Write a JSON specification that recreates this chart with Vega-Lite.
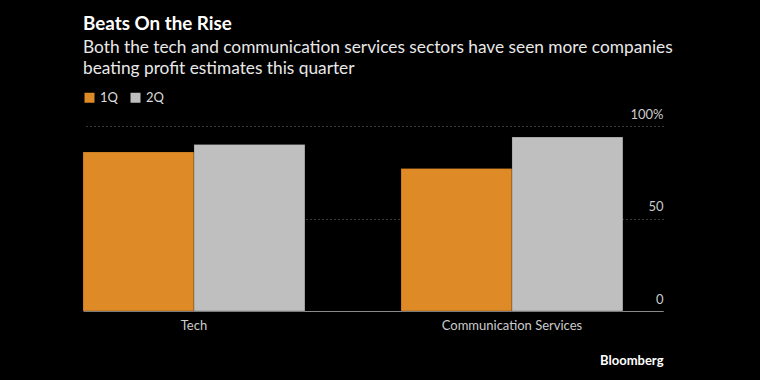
{
  "$schema": "https://vega.github.io/schema/vega-lite/v6.json",
  "width": 580,
  "height": 185,
  "autosize": {"type": "none"},
  "padding": {"left": 83, "top": 126, "right": 97, "bottom": 69},
  "background": "#000000",
  "config": {"view": {"stroke": null}},
  "title": {
    "text": "Beats On the Rise",
    "subtitle": ["Both the tech and communication services sectors have seen more companies", "beating profit estimates this quarter"],
    "anchor": "start",
    "frame": "group",
    "font": "Lato",
    "fontSize": 18.8,
    "fontWeight": "bold",
    "color": "#ffffff",
    "subtitleFont": "Lato",
    "subtitleFontSize": 17.3,
    "subtitleColor": "#e8e8e8",
    "subtitleLineHeight": 21,
    "subtitlePadding": 5,
    "offset": 14
  },
  "data": {
    "values": [
      {"sector": "Tech", "quarter": "1Q", "value": 86},
      {"sector": "Tech", "quarter": "2Q", "value": 90},
      {"sector": "Communication Services", "quarter": "1Q", "value": 77},
      {"sector": "Communication Services", "quarter": "2Q", "value": 94}
    ]
  },
  "mark": {"type": "bar", "stroke": "#000000", "strokeWidth": 0.6, "strokeOpacity": 0.35},
  "encoding": {
    "x": {
      "field": "sector",
      "type": "nominal",
      "sort": ["Tech", "Communication Services"],
      "scale": {"paddingInner": 0.302, "paddingOuter": 0.063, "align": 0},
      "axis": {
        "title": "Bloomberg",
        "labelAngle": 0,
        "ticks": false,
        "tickSize": 0,
        "domainColor": "#8a8a8a",
        "domainWidth": 1,
        "labelColor": "#cccccc",
        "labelFont": "Lato",
        "labelFontSize": 13,
        "labelPadding": 8,
        "titleAnchor": "end",
        "titleAlign": "right",
        "titleColor": "#ffffff",
        "titleFont": "Lato",
        "titleFontSize": 13,
        "titleFontWeight": "bold",
        "titlePadding": 22,
        "grid": false
      }
    },
    "xOffset": {
      "field": "quarter",
      "type": "nominal",
      "scale": {"paddingInner": 0, "paddingOuter": 0}
    },
    "y": {
      "field": "value",
      "type": "quantitative",
      "scale": {"domain": [0, 100]},
      "axis": {
        "orient": "right",
        "values": [0, 50, 100],
        "labelExpr": "datum.value == 100 ? '100%' : datum.label",
        "ticks": false,
        "tickSize": 0,
        "domain": false,
        "grid": true,
        "gridDash": [1, 3],
        "gridColor": "#777777",
        "gridWidth": 1,
        "labelAlign": "right",
        "labelBaseline": "alphabetic",
        "labelOffset": -8,
        "labelPadding": 0,
        "labelColor": "#cccccc",
        "labelFont": "Lato",
        "labelFontSize": 13,
        "title": null
      }
    },
    "color": {
      "field": "quarter",
      "type": "nominal",
      "scale": {"domain": ["1Q", "2Q"], "range": ["#de8a26", "#bfbfbf"]},
      "legend": {
        "orient": "top",
        "direction": "horizontal",
        "title": null,
        "symbolType": "square",
        "symbolSize": 100,
        "symbolStrokeWidth": 0,
        "symbolOpacity": 1,
        "labelColor": "#dddddd",
        "labelFont": "Lato",
        "labelFontSize": 13,
        "columnPadding": 11,
        "labelOffset": 4,
        "offset": 21
      }
    }
  }
}
